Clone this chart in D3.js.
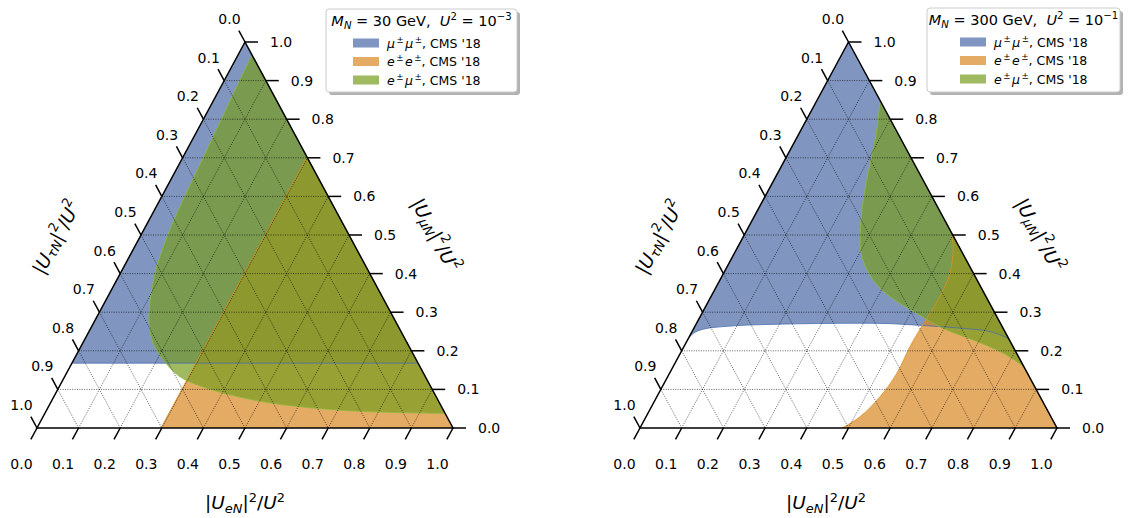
<!DOCTYPE html>
<html>
<head>
<meta charset="utf-8">
<script src="https://cdn.jsdelivr.net/npm/d3@7"></script>
<style>
  body { margin: 0; background: #fff; }
  svg { display: block; font-family: "DejaVu Sans", sans-serif; }
  text { white-space: pre; }
</style>
</head>
<body>
<div id="chart"></div>
<script>
// points are ternary [e, mu]  (tau = 1 - e - mu)
const tickValues = [0.0, 0.1, 0.2, 0.3, 0.4, 0.5, 0.6, 0.7, 0.8, 0.9, 1.0];
const tickLabels = ["0.0", "0.1", "0.2", "0.3", "0.4", "0.5", "0.6", "0.7", "0.8", "0.9", "1.0"];
const gridValues = [0.1, 0.2, 0.3, 0.4, 0.5, 0.6, 0.7, 0.8, 0.9];

// M_N = 30 GeV
const leftBlue = [[0.0, 0.168], [0.832, 0.168]];
const leftOrange = [[0.298, 0.0], [0.298, 0.702]];
const leftGreen = [[0.034, 0.966], [0.037, 0.902], [0.046, 0.755], [0.060, 0.537], [0.069, 0.470],
  [0.083, 0.401], [0.110, 0.323], [0.134, 0.271], [0.170, 0.219], [0.216, 0.176], [0.277, 0.133],
  [0.375, 0.098], [0.510, 0.068], [0.680, 0.048], [0.845, 0.040], [0.962, 0.038]];

// M_N = 300 GeV
const rightBlue = [[0.0, 0.228], [0.005, 0.245], [0.024, 0.256], [0.084, 0.264], [0.201, 0.269],
  [0.440, 0.271], [0.522, 0.267], [0.646, 0.258], [0.714, 0.250], [0.768, 0.232]];
const rightOrange = [[0.485, 0.0], [0.513, 0.029], [0.535, 0.081], [0.545, 0.142], [0.542, 0.211],
  [0.544, 0.262], [0.547, 0.297], [0.549, 0.340], [0.543, 0.401], [0.516, 0.470], [0.493, 0.507]];
const rightGreen = [[0.151, 0.849], [0.182, 0.772], [0.209, 0.686], [0.240, 0.591], [0.276, 0.504],
  [0.310, 0.444], [0.368, 0.383], [0.430, 0.340], [0.515, 0.297], [0.598, 0.258], [0.685, 0.228],
  [0.774, 0.194], [0.841, 0.159]];

const seriesColors = ["#4a69a5", "#d88822", "#779d1f"];
const edgeColors = ["#4a6fb0", "#e0901e", "#8cba3c"];
const seriesLetters = [["μ", "μ"], ["e", "e"], ["e", "μ"]];

const width = 1136, height = 518;
const svg = d3.select("#chart").append("svg")
  .attr("width", width).attr("height", height);

// small mathtext helper: parts = [{t, it, sub, sup}]
function addMath(text, parts, size) {
  let shift = 0;
  parts.forEach(p => {
    const target = p.sub ? size * 0.22 : p.sup ? -size * 0.4 : 0;
    const ts = text.append("tspan").attr("dy", target - shift).text(p.t);
    shift = target;
    if (p.sub || p.sup) ts.attr("font-size", size * 0.7);
    if (p.it) ts.attr("font-style", "italic");
    if (p.pad) ts.attr("dx", p.pad);
  });
}

function axisTitle(sym) {
  return [{t: "|"}, {t: "U", it: 1}, {t: sym + "N", it: 1, sub: 1}, {t: "|"}, {t: "2", sup: 1},
    {t: "/"}, {t: "U", it: 1}, {t: "2", sup: 1}];
}

function drawPanel(p, idx) {
  const g = svg.append("g");
  const x = d3.scaleLinear().domain([0, 1]).range([p.x0, p.x1]);
  const y = d3.scaleLinear().domain([0, 1]).range([p.y0, p.y1]);
  const pt = d => [x(d[0] + d[1] / 2), y(d[1])];

  const BL = [0, 0], BR = [1, 0], T = [0, 1];
  const clipId = "clip" + idx;
  g.append("clipPath").attr("id", clipId)
    .append("path").attr("d", "M" + [BL, BR, T].map(pt).join("L") + "Z");

  const curveLine = d3.line().curve(d3.curveCatmullRom.alpha(0.5));
  const linear = d3.line();
  const regions = [
    {curve: p.blue, close: [T]},
    {curve: p.orange, close: [BR]},
    {curve: p.green, close: []}
  ];
  const fills = g.append("g").attr("clip-path", `url(#${clipId})`);
  const edges = [];
  regions.forEach((r, i) => {
    const cpts = r.curve.map(pt);
    const gen = cpts.length > 2 ? curveLine : linear;
    let d = gen(cpts);
    r.close.forEach(c => { d += "L" + pt(c).join(","); });
    d += "Z";
    fills.append("path").attr("d", d)
      .attr("fill", seriesColors[i]).attr("fill-opacity", 0.7).attr("stroke", "none");
    edges.push(gen(cpts));
  });
  edges.forEach((d, i) => {
    fills.append("path").attr("d", d)
      .attr("fill", "none").attr("stroke", edgeColors[i]).attr("stroke-width", 1)
      .attr("stroke-opacity", 0.8);
  });

  // grid
  const grid = g.append("g")
    .attr("stroke", "#000").attr("stroke-width", 0.7)
    .attr("stroke-dasharray", "1,1.4").attr("stroke-opacity", 0.9);
  gridValues.forEach(v => {
    [[[0, v], [1 - v, v]], [[v, 0], [v, 1 - v]], [[0, 1 - v], [1 - v, 0]]].forEach(s => {
      const a = pt(s[0]), b = pt(s[1]);
      grid.append("line").attr("x1", a[0]).attr("y1", a[1]).attr("x2", b[0]).attr("y2", b[1]);
    });
  });

  // border
  g.append("path").attr("d", "M" + [BL, BR, T].map(pt).join("L") + "Z")
    .attr("fill", "none").attr("stroke", "#000").attr("stroke-width", 1.5)
    .attr("stroke-linejoin", "miter");

  // ticks
  const W = p.x1 - p.x0, H = p.y0 - p.y1, len = Math.hypot(W / 2, H), tl = 13;
  const dBottom = [-W / 2 / len, H / len], dLeft = [-W / 2 / len, -H / len];
  const ticks = g.append("g").attr("stroke", "#000").attr("stroke-width", 1.5);
  const labels = g.append("g").attr("font-size", 14).attr("fill", "#000");
  tickValues.forEach((v, i) => {
    // bottom: e
    let a = pt([v, 0]);
    ticks.append("line").attr("x1", a[0]).attr("y1", a[1])
      .attr("x2", a[0] + dBottom[0] * tl).attr("y2", a[1] + dBottom[1] * tl);
    labels.append("text").attr("x", a[0] - 15.5).attr("y", a[1] + 36)
      .attr("text-anchor", "middle").attr("dominant-baseline", "central").text(tickLabels[i]);
    // right: mu
    a = pt([1 - v, v]);
    ticks.append("line").attr("x1", a[0]).attr("y1", a[1]).attr("x2", a[0] + tl).attr("y2", a[1]);
    labels.append("text").attr("x", a[0] + 25).attr("y", a[1])
      .attr("text-anchor", "start").attr("dominant-baseline", "central").text(tickLabels[i]);
    // left: tau
    a = pt([0, 1 - v]);
    ticks.append("line").attr("x1", a[0]).attr("y1", a[1])
      .attr("x2", a[0] + dLeft[0] * tl).attr("y2", a[1] + dLeft[1] * tl);
    labels.append("text").attr("x", a[0] - 15.5).attr("y", a[1] - 23)
      .attr("text-anchor", "middle").attr("dominant-baseline", "central").text(tickLabels[i]);
  });

  // axis titles
  const ang = Math.atan2(H, W / 2) * 180 / Math.PI;
  const ts = 18.5;
  let t = g.append("text").attr("x", p.bx).attr("y", 509).attr("font-size", ts)
    .attr("text-anchor", "middle");
  addMath(t, axisTitle("e"), ts);
  t = g.append("text").attr("font-size", ts).attr("text-anchor", "middle")
    .attr("dominant-baseline", "central")
    .attr("transform", `translate(${p.x0 + 19},237) rotate(${-ang})`);
  addMath(t, axisTitle("τ"), ts);
  t = g.append("text").attr("font-size", ts).attr("text-anchor", "middle")
    .attr("dominant-baseline", "central")
    .attr("transform", `translate(${p.x1 - 17},235) rotate(${ang})`);
  addMath(t, axisTitle("μ"), ts);

  // legend
  const L = p.legend;
  const lg = g.append("g");
  lg.append("rect").attr("x", L.x + 3).attr("y", L.y + 3).attr("width", L.w).attr("height", L.h)
    .attr("rx", 3).attr("fill", "#000").attr("fill-opacity", 0.3);
  lg.append("rect").attr("x", L.x).attr("y", L.y).attr("width", L.w).attr("height", L.h)
    .attr("rx", 3).attr("fill", "#fff").attr("stroke", "#ccc").attr("stroke-width", 1);
  const tt = lg.append("text").attr("x", L.x + L.w / 2).attr("y", L.y + 17)
    .attr("font-size", 14.5).attr("text-anchor", "middle");
  addMath(tt, [{t: "M", it: 1}, {t: "N", it: 1, sub: 1}, {t: " = " + p.mass + " GeV,  "},
    {t: "U", it: 1}, {t: "2", sup: 1}, {t: " = 10"}, {t: p.expo, sup: 1}], 14.5);
  seriesLetters.forEach((s, i) => {
    const cy = L.y + 34 + i * 18.5;
    lg.append("rect").attr("x", L.sx).attr("y", cy - 4.5).attr("width", 26).attr("height", 9)
      .attr("fill", seriesColors[i]).attr("fill-opacity", 0.7);
    const et = lg.append("text").attr("x", L.sx + 34).attr("y", cy + 4.5).attr("font-size", 12.5);
    addMath(et, [{t: s[0], it: 1}, {t: "±", sup: 1, pad: 1.5}, {t: s[1], it: 1, pad: 1.5},
      {t: "±", sup: 1, pad: 1.5}, {t: ", CMS '18"}], 12.5);
  });
}

const panels = [
  {x0: 37, x1: 453, y0: 428, y1: 42, bx: 245, blue: leftBlue, orange: leftOrange, green: leftGreen,
    mass: "30", expo: "−3", legend: {x: 326, y: 9, w: 191, h: 83, sx: 353}},
  {x0: 640, x1: 1057, y0: 428, y1: 42, bx: 826, blue: rightBlue, orange: rightOrange, green: rightGreen,
    mass: "300", expo: "−1", legend: {x: 927, y: 8, w: 193, h: 84, sx: 960}}
];
panels.forEach(drawPanel);
</script>
</body>
</html>
